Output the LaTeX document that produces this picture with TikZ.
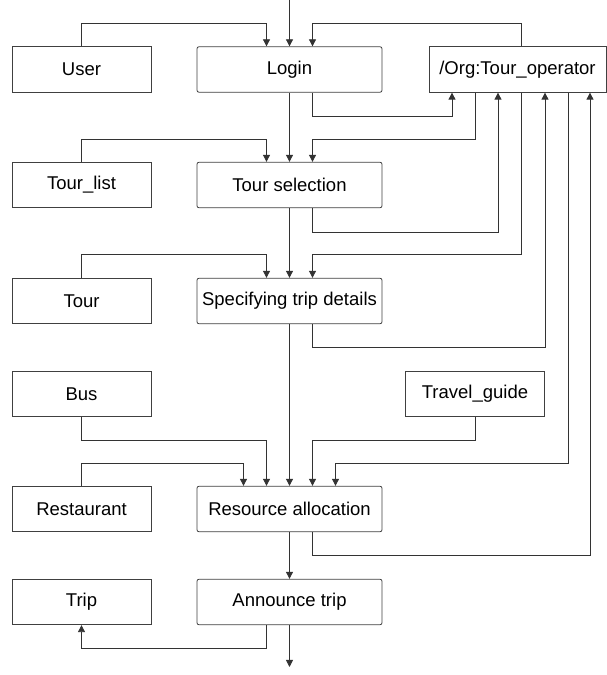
\documentclass[tikz,border=0pt]{standalone}
\usepackage{fontspec}
\setmainfont{Liberation Sans}
\usetikzlibrary{arrows.meta}
\begin{document}
\begin{tikzpicture}[x=1pt,y=1pt,
  base/.style={draw=black!75, line width=0.8pt, inner sep=0pt, minimum height=45.5pt,
    font=\fontsize{18.5}{21}\selectfont, fill=white},
  objbox/.style={base, minimum width=139pt},
  procbox/.style={base, minimum width=185pt, rounded corners=2pt},
  opbox/.style={base, minimum width=177pt},
  conn/.style={draw=black!80, line width=0.8pt},
  arr/.style={conn, -{Triangle[width=7pt,length=7pt]}}]
\useasboundingbox (0,0) rectangle (607,675);
% levels
\coordinate (h23) at (0,652);
\coordinate (h116) at (0,559);
\coordinate (h139) at (0,536);
\coordinate (h232) at (0,443);
\coordinate (h255) at (0,421);
\coordinate (h347) at (0,328);
\coordinate (h440) at (0,235);
\coordinate (h463) at (0,212);
\coordinate (h555) at (0,120);
\coordinate (h648) at (0,27);
\coordinate (in) at (289.5,675);
\coordinate (out) at (289.5,8);
% nodes
\node[objbox] (user) at (81.5,605.5) {User};
\node[procbox] (login) at (289.5,605.5) {Login};
\node[opbox] (op) at (517.5,605.5) {/Org:Tour\_operator};
\node[objbox] (tlist) at (81.5,490) {Tour\_list};
\node[procbox] (tsel) at (289.5,490) {Tour selection};
\node[objbox] (tour) at (81.5,374) {Tour};
\node[procbox] (spec) at (289.5,374) {Specifying trip details};
\node[objbox] (bus) at (81.5,281) {Bus};
\node[objbox] (guide) at (475,281) {Travel\_guide};
\node[objbox] (rest) at (81.5,166) {Restaurant};
\node[procbox] (ralloc) at (289.5,166) {Resource allocation};
\node[objbox] (trip) at (81.5,73) {Trip};
\node[procbox] (ann) at (289.5,73) {Announce trip};
% connectors
\draw[arr] (in) -- (login.north);
\draw[arr] (user.north) -- (user.north |- h23) -| ([xshift=-23pt]login.north);
\draw[arr] ([xshift=3.5pt]op.north) -- ([xshift=3.5pt]op.north |- h23) -| ([xshift=23pt]login.north);
\draw[arr] (login.south) -- (tsel.north);
\draw[arr] ([xshift=23pt]login.south) -- ([xshift=23pt]login.south |- h116) -| ([xshift=-65.5pt]op.south);
\draw[arr] (tlist.north) -- (tlist.north |- h139) -| ([xshift=-23pt]tsel.north);
\draw[arr] ([xshift=-42.5pt]op.south) -- ([xshift=-42.5pt]op.south |- h139) -| ([xshift=23pt]tsel.north);
\draw[arr] (tsel.south) -- (spec.north);
\draw[arr] ([xshift=23pt]tsel.south) -- ([xshift=23pt]tsel.south |- h232) -| ([xshift=-19.5pt]op.south);
\draw[arr] (tour.north) -- (tour.north |- h255) -| ([xshift=-23pt]spec.north);
\draw[arr] ([xshift=3.5pt]op.south) -- ([xshift=3.5pt]op.south |- h255) -| ([xshift=23pt]spec.north);
\draw[arr] (spec.south) -- (ralloc.north);
\draw[arr] ([xshift=23pt]spec.south) -- ([xshift=23pt]spec.south |- h347) -| ([xshift=27.5pt]op.south);
\draw[arr] (bus.south) -- (bus.south |- h440) -| ([xshift=-23pt]ralloc.north);
\draw[arr] (guide.south) -- (guide.south |- h440) -| ([xshift=23pt]ralloc.north);
\draw[arr] (rest.north) -- (rest.north |- h463) -| ([xshift=-46pt]ralloc.north);
\draw[arr] ([xshift=50.5pt]op.south) -- ([xshift=50.5pt]op.south |- h463) -| ([xshift=46pt]ralloc.north);
\draw[arr] (ralloc.south) -- (ann.north);
\draw[arr] ([xshift=23pt]ralloc.south) -- ([xshift=23pt]ralloc.south |- h555) -| ([xshift=72.5pt]op.south);
\draw[arr] ([xshift=-23pt]ann.south) -- ([xshift=-23pt]ann.south |- h648) -| (trip.south);
\draw[arr] (ann.south) -- (out);
\end{tikzpicture}
\end{document}
